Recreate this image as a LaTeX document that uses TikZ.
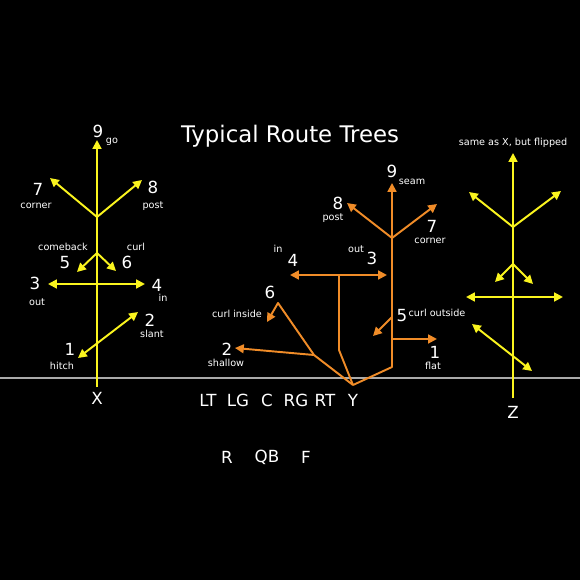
\documentclass[tikz,border=0pt]{standalone}
\usepackage{fontspec}
\setmainfont{DejaVu Sans}
\usetikzlibrary{arrows.meta,positioning}
\definecolor{yellowroute}{RGB}{250,244,30}
\definecolor{orangeroute}{RGB}{240,140,40}
\definecolor{losgray}{RGB}{170,170,170}

\begin{document}
\begin{tikzpicture}[
    x=0.02cm, y=-0.02cm,
    route/.style={line width=1.1pt, line join=round},
    yroute/.style={route, draw=yellowroute},
    oroute/.style={route, draw=orangeroute},
    tip/.style={-{Triangle[length=5pt,width=5pt]}},
    both/.style={{Triangle[length=5pt,width=5pt]}-{Triangle[length=5pt,width=5pt]}},
    num/.style={text=white, inner sep=0pt, font=\fontsize{9.5}{10}\selectfont},
    small/.style={text=white, inner sep=0pt, font=\fontsize{5.5}{6}\selectfont},
    player/.style={text=white, inner sep=0pt, font=\fontsize{9.5}{10}\selectfont}
  ]
  % ---- Field ----
  \useasboundingbox (0,0) rectangle (580,580);
  \fill[black] (-5,-5) rectangle (585,585);
  \coordinate (losleft)  at (0,378);
  \coordinate (losright) at (580,378);
  \draw[losgray, line width=0.6pt] (losleft) -- (losright);

  \node[text=white, font=\fontsize{13}{15}\selectfont] (title) at (290,136) {Typical Route Trees};

  % ---- X tree ----
  \coordinate (xbase)     at (97,387);
  \coordinate (xgo)       at (97,140);
  \coordinate (xfork)     at (97,217);
  \coordinate (xcorner)   at (50,178);
  \coordinate (xpost)     at (142,180);
  \coordinate (xcurlfork) at (97,253);
  \coordinate (xcomeback) at (77,272);
  \coordinate (xcurl)     at (116,271);
  \coordinate (xout)      at (48,284);
  \coordinate (xin)       at (145,284);
  \coordinate (xhitch)    at (78,358);
  \coordinate (xslant)    at (138,312);

  \draw[yroute, tip] (xbase) -- (xgo);
  \draw[yroute, tip] (xfork) -- (xcorner);
  \draw[yroute, tip] (xfork) -- (xpost);
  \draw[yroute, tip] (xcurlfork) -- (xcomeback);
  \draw[yroute, tip] (xcurlfork) -- (xcurl);
  \draw[yroute, both] (xout) -- (xin);
  \draw[yroute, both] (xhitch) -- (xslant);

  \node[num]   (x9) at (98,131)  {9};
  \node[small] (x9t) at (112,142) {go};
  \node[num]   (x7) at (38,189)  {7};
  \node[small] (x7t) at (36,206) {corner};
  \node[num]   (x8) at (153,187) {8};
  \node[small] (x8t) at (153,206) {post};
  \node[small] (x5t) at (63,247) {comeback};
  \node[num]   (x5) at (65,263)  {5};
  \node[small] (x6t) at (136,247) {curl};
  \node[num]   (x6) at (127,262) {6};
  \node[num]   (x3) at (35,283)  {3};
  \node[small] (x3t) at (37,302) {out};
  \node[num]   (x4) at (157,285) {4};
  \node[small] (x4t) at (163,298) {in};
  \node[num]   (x2) at (150,320) {2};
  \node[small] (x2t) at (152,334) {slant};
  \node[num]   (x1) at (70,349)  {1};
  \node[small] (x1t) at (62,366) {hitch};

  % ---- Y tree ----
  \coordinate (ybase)     at (353,385);
  \coordinate (yright)    at (392,367);
  \coordinate (yseam)     at (392,183);
  \coordinate (yfork)     at (392,238);
  \coordinate (ypost)     at (347,203);
  \coordinate (ycorner)   at (437,204);
  \coordinate (ybend)     at (339,350);
  \coordinate (ystem)     at (339,275);
  \coordinate (yin)       at (290,275);
  \coordinate (yout)      at (387,275);
  \coordinate (ysplit)    at (314,355);
  \coordinate (ypeak)     at (278,303);
  \coordinate (ycurlin)   at (267,322);
  \coordinate (yshallow)  at (235,348);
  \coordinate (ycurlfork) at (392,317);
  \coordinate (ycurlout)  at (373,336);
  \coordinate (yflatfork) at (392,339);
  \coordinate (yflat)     at (437,339);

  \draw[oroute, tip] (ybase) -- (yright) -- (yseam);
  \draw[oroute, tip] (yfork) -- (ypost);
  \draw[oroute, tip] (yfork) -- (ycorner);
  \draw[oroute] (ybase) -- (ybend) -- (ystem);
  \draw[oroute, both] (yin) -- (yout);
  \draw[oroute, tip] (ybase) -- (ysplit) -- (ypeak) -- (ycurlin);
  \draw[oroute, tip] (ysplit) -- (yshallow);
  \draw[oroute, tip] (ycurlfork) -- (ycurlout);
  \draw[oroute, tip] (yflatfork) -- (yflat);

  \node[num]   (y9) at (392,171) {9};
  \node[small] (y9t) at (412,182) {seam};
  \node[num]   (y8) at (338,203) {8};
  \node[small] (y8t) at (333,218) {post};
  \node[num]   (y7) at (432,226) {7};
  \node[small] (y7t) at (430,241) {corner};
  \node[small] (y4t) at (278,249) {in};
  \node[num]   (y4) at (293,260) {4};
  \node[small] (y3t) at (356,249) {out};
  \node[num]   (y3) at (372,258) {3};
  \node[num]   (y6) at (270,292) {6};
  \node[small] (y6t) at (237,314) {curl inside};
  \node[num]   (y2) at (227,349) {2};
  \node[small] (y2t) at (226,363) {shallow};
  \node[num]   (y5) at (402,316) {5};
  \node[small] (y5t) at (437,313) {curl outside};
  \node[num]   (y1) at (435,352) {1};
  \node[small] (y1t) at (433,366) {flat};

  % ---- Z tree ----
  \coordinate (zbase)     at (513,398);
  \coordinate (zgo)       at (513,153);
  \coordinate (zfork)     at (513,227);
  \coordinate (zpost)     at (469,192);
  \coordinate (zcorner)   at (561,191);
  \coordinate (zcurlfork) at (513,264);
  \coordinate (zcurl)     at (495,282);
  \coordinate (zcomeback) at (533,284);
  \coordinate (zin)       at (466,297);
  \coordinate (zout)      at (563,297);
  \coordinate (zslant)    at (472,324);
  \coordinate (zhitch)    at (532,371);

  \draw[yroute, tip] (zbase) -- (zgo);
  \draw[yroute, tip] (zfork) -- (zpost);
  \draw[yroute, tip] (zfork) -- (zcorner);
  \draw[yroute, tip] (zcurlfork) -- (zcurl);
  \draw[yroute, tip] (zcurlfork) -- (zcomeback);
  \draw[yroute, both] (zin) -- (zout);
  \draw[yroute, both] (zslant) -- (zhitch);

  \node[small] (znote) at (513,143) {same as X, but flipped};

  % ---- Formation ----
  \node[player] (X)  at (97,398)  {X};
  \node[player] (LT) at (208,400) {LT};
  \node[player] (LG) at (238,400) {LG};
  \node[player] (C)  at (267,400) {C};
  \node[player] (RG) at (296,400) {RG};
  \node[player] (RT) at (325,400) {RT};
  \node[player] (Y)  at (353,400) {Y};
  \node[player] (Z)  at (513,412) {Z};
  \node[player] (R)  at (227,457) {R};
  \node[player] (QB) at (267,457) {QB};
  \node[player] (F)  at (306,457) {F};
\end{tikzpicture}
\end{document}
